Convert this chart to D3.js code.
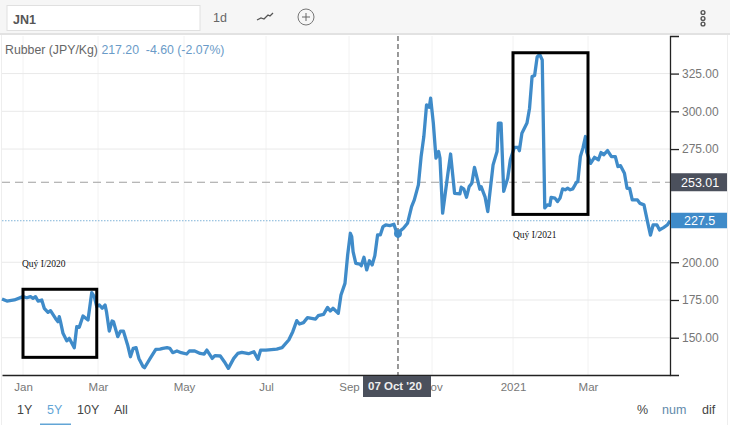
<!DOCTYPE html>
<html><head><meta charset="utf-8">
<script src="https://cdnjs.cloudflare.com/ajax/libs/d3/7.8.5/d3.min.js"></script>
<style>
html,body{margin:0;padding:0;background:#fff}
svg{display:block;font-family:"Liberation Sans",Arial,sans-serif}
</style></head><body><svg id="c" width="730" height="448"></svg>
<script>
const dates=["2019-12-15","2019-12-19","2019-12-25","2020-01-01","2020-01-04","2020-01-07","2020-01-09","2020-01-11","2020-01-13","2020-01-16","2020-01-18","2020-01-21","2020-01-23","2020-01-27","2020-01-29","2020-01-30","2020-01-31","2020-02-02","2020-02-05","2020-02-07","2020-02-11","2020-02-13","2020-02-15","2020-02-18","2020-02-22","2020-02-25","2020-02-27","2020-02-29","2020-03-02","2020-03-04","2020-03-06","2020-03-07","2020-03-09","2020-03-11","2020-03-12","2020-03-15","2020-03-17","2020-03-19","2020-03-22","2020-03-24","2020-03-26","2020-03-28","2020-03-30","2020-04-02","2020-04-03","2020-04-07","2020-04-11","2020-04-14","2020-04-16","2020-04-19","2020-04-21","2020-04-23","2020-04-26","2020-04-29","2020-05-03","2020-05-05","2020-05-09","2020-05-13","2020-05-16","2020-05-18","2020-05-22","2020-05-24","2020-05-28","2020-05-31","2020-06-03","2020-06-07","2020-06-10","2020-06-13","2020-06-18","2020-06-22","2020-06-25","2020-06-27","2020-07-01","2020-07-09","2020-07-13","2020-07-18","2020-07-21","2020-07-24","2020-07-26","2020-07-29","2020-08-01","2020-08-07","2020-08-09","2020-08-13","2020-08-16","2020-08-18","2020-08-20","2020-08-24","2020-08-26","2020-08-29","2020-08-31","2020-09-02","2020-09-03","2020-09-04","2020-09-06","2020-09-09","2020-09-10","2020-09-12","2020-09-14","2020-09-16","2020-09-18","2020-09-20","2020-09-22","2020-09-24","2020-09-26","2020-09-28","2020-10-01","2020-10-04","2020-10-07","2020-10-08","2020-10-11","2020-10-14","2020-10-17","2020-10-19","2020-10-22","2020-10-24","2020-10-26","2020-10-28","2020-10-30","2020-10-31","2020-11-02","2020-11-04","2020-11-06","2020-11-07","2020-11-09","2020-11-13","2020-11-15","2020-11-18","2020-11-22","2020-11-23","2020-11-25","2020-11-27","2020-11-29","2020-12-01","2020-12-03","2020-12-07","2020-12-08","2020-12-11","2020-12-13","2020-12-17","2020-12-20","2020-12-21","2020-12-23","2020-12-25","2020-12-28","2020-12-30","2021-01-02","2021-01-05","2021-01-06","2021-01-08","2021-01-12","2021-01-14","2021-01-16","2021-01-18","2021-01-20","2021-01-22","2021-01-24","2021-01-26","2021-01-28","2021-01-30","2021-01-31","2021-02-03","2021-02-05","2021-02-07","2021-02-09","2021-02-11","2021-02-13","2021-02-15","2021-02-17","2021-02-20","2021-02-21","2021-02-23","2021-02-25","2021-02-27","2021-02-28","2021-03-03","2021-03-06","2021-03-09","2021-03-11","2021-03-13","2021-03-16","2021-03-19","2021-03-22","2021-03-24","2021-03-26","2021-03-29","2021-03-31","2021-04-02","2021-04-04","2021-04-08","2021-04-10","2021-04-13","2021-04-16","2021-04-18","2021-04-20","2021-04-23","2021-04-25","2021-04-28","2021-05-01","2021-05-03"];
const prices=[175.7,174.3,175,177.2,176.5,177.2,176.1,177.2,174.3,175,169.5,166.8,167.9,162.8,160.6,164,160.6,152.9,148,149.6,143.4,157.3,156.9,164.4,161.7,179.9,177.2,170.6,171.7,169.5,171.7,167.3,154.4,161.1,160.6,150.7,154.4,154.4,145.2,137.4,143,143.4,136.3,130.8,130.1,136.3,142.3,142.5,143,143.4,143,140.1,141.2,140.1,139.2,141.2,141.2,139.6,139.2,141.8,136.3,138.1,137.9,134.1,129.7,136.3,139.6,140.3,139.4,140.7,135.7,141.8,141.8,142.5,143.4,148.5,154,161.3,159.1,160,163.3,162.4,164.6,165.5,170.1,167.7,169.5,166.2,178.3,186,204.8,219.2,217,207,199.3,198.7,197.7,203.3,194.9,201,198.2,204.4,218.1,218.1,223.6,224.7,224.3,225.2,217,220.3,222.5,225.8,236.9,241.3,251.3,270,283.3,304.3,302.7,308.7,292.2,269,273.4,269,232.5,259,271.7,245.7,245.3,249.7,248.4,243.1,250.1,252.3,262.9,248.4,250.1,243.1,233.6,264.5,273.4,292.2,292.2,247,255.7,267.9,276.1,276.1,273.9,285.4,292.2,301.9,323,323.7,336,337.7,334,236,238,237.7,243,242.5,240.2,242.5,248.6,248,249,248,248.6,253,253.4,270,275.6,283.3,273,265.5,269.5,267.9,272.7,271.2,274,270,270,263.4,264,259,249,249,241.3,241.3,239,238,225.8,218,224.7,224.7,221.4,223,224.7,227.5];
const monthTicks=["2020-01-01","2020-03-01","2020-05-01","2020-07-01","2020-09-01","2020-11-01","2021-01-01","2021-03-01"];
const monthLabels=["Jan","Mar","May","Jul","Sep","Nov","2021","Mar"];
const priceTicks=[150,175,200,275,300,325];
const quarterBoxes=[["2020-01-01","2020-02-29",182.1,137,"Quý I/2020"],["2021-01-01","2021-03-01",338.8,231.7,"Quý I/2021"]];
const crosshairDate="2020-10-07", crosshairPrice=219, crosshairLabel="07 Oct '20";
const hoverPrice=253.01, lastPrice=227.5;
const rangeButtons=["1Y","5Y","10Y","All"], modeButtons=["%","num","dif"];

const P=d3.timeParse("%Y-%m-%d");
const svg=d3.select("#c");
const x=d3.scaleTime()
  .domain(["2019-12-15",...monthTicks,"2021-05-03"].map(P))
  .range([2,23,98,184,266,349,432,513,588,670]);
const y=d3.scaleLinear().domain([125.3,349.9]).range([375,36]);

// toolbar
svg.append("rect").attr("width",730).attr("height",33).attr("fill","#f6f6f6");
svg.append("rect").attr("y",33).attr("width",730).attr("height",2).attr("fill","#e2e2e2");
svg.append("rect").attr("x",7).attr("y",5.5).attr("width",193).attr("height",25).attr("fill","#fff").attr("stroke","#e0e0e0");
svg.append("text").attr("x",13).attr("y",24).attr("font-size",12.5).attr("font-weight","bold").attr("fill","#555").text("JN1");
svg.append("text").attr("x",213).attr("y",22).attr("font-size",12.5).attr("fill","#666").text("1d");
svg.append("path").attr("d","M257 20l4-2 3 1 4-4 2 1 3-3").attr("fill","none").attr("stroke","#555").attr("stroke-width",1.3);
svg.append("circle").attr("cx",306).attr("cy",17).attr("r",8).attr("fill","none").attr("stroke","#777");
svg.append("path").attr("d","M302 17h8M306 13v8").attr("stroke","#666");
[12.5,18.5,24].forEach(c=>svg.append("circle").attr("cx",703).attr("cy",c).attr("r",1.9).attr("fill","none").attr("stroke","#555").attr("stroke-width",1.4));

// frame
svg.append("path").attr("d","M1.5 35V425M727.5 35V425").attr("stroke","#eeeeee");

// grid
const g=svg.append("g");
g.selectAll(".gx").data(monthTicks).join("line").attr("x1",d=>x(P(d))).attr("x2",d=>x(P(d))).attr("y1",36).attr("y2",375).attr("stroke","#f2f2f2");
g.selectAll(".gy").data(priceTicks).join("line").attr("x1",2).attr("x2",670).attr("y1",d=>y(d)).attr("y2",d=>y(d)).attr("stroke","#e9e9e9");

// reference lines
svg.append("line").attr("x1",2).attr("x2",670).attr("y1",y(lastPrice)).attr("y2",y(lastPrice)).attr("stroke","#7fb4d8").attr("stroke-dasharray","1.5 1.5");
svg.append("line").attr("x1",2).attr("x2",670).attr("y1",y(hoverPrice)).attr("y2",y(hoverPrice)).attr("stroke","#a0a0a0").attr("stroke-width",1.2).attr("stroke-dasharray","8 5");
svg.append("line").attr("x1",x(P(crosshairDate))).attr("x2",x(P(crosshairDate))).attr("y1",36).attr("y2",375).attr("stroke","#777").attr("stroke-width",1.5).attr("stroke-dasharray","5 3");

// price line
const series=dates.map((d,i)=>({d:P(d),v:prices[i]}));
svg.append("path").datum(series).attr("fill","none").attr("stroke","#3f8bc9").attr("stroke-width",3.3).attr("stroke-linejoin","round")
  .attr("d",d3.line().x(d=>x(d.d)).y(d=>y(d.v)));
svg.append("circle").attr("cx",x(P(crosshairDate))).attr("cy",y(crosshairPrice)).attr("r",4).attr("fill","#3f8bc9");

// axes
const ax=svg.append("g").attr("transform","translate(670,0)").call(
  d3.axisRight(y).tickValues(priceTicks).tickSize(9).tickSizeOuter(9).tickPadding(3).tickFormat(d3.format(".2f")));
ax.selectAll("text").attr("font-size",12).attr("fill","#777").attr("font-family","Liberation Sans");
ax.selectAll("path,line").attr("stroke","#222").attr("stroke-width",1.3);
const bx=svg.append("g").attr("transform","translate(0,375)").call(
  d3.axisBottom(x).tickValues(monthTicks.map(P)).tickSize(0).tickSizeOuter(0).tickPadding(8).tickFormat((d,i)=>monthLabels[i]));
bx.selectAll("text").attr("font-size",11.5).attr("fill","#777").attr("font-family","Liberation Sans");
bx.select("path").attr("stroke","#222").attr("stroke-width",1.5);

// quarter boxes
quarterBoxes.forEach(b=>{
  const x0=x(P(b[0])),x1=x(P(b[1])),y0=y(b[2]),y1=y(b[3]);
  svg.append("rect").attr("x",x0).attr("y",y0).attr("width",x1-x0).attr("height",y1-y0).attr("fill","none").attr("stroke","#000").attr("stroke-width",3);
});
svg.append("text").attr("x",22).attr("y",267).attr("font-family","Liberation Serif").attr("font-size",9.5).attr("fill","#111").text(quarterBoxes[0][4]);
svg.append("text").attr("x",513).attr("y",238).attr("font-family","Liberation Serif").attr("font-size",9.5).attr("fill","#111").text(quarterBoxes[1][4]);

// price tags
svg.append("rect").attr("x",671).attr("y",y(hoverPrice)-9).attr("width",56).attr("height",18).attr("fill","#4b505c");
svg.append("text").attr("x",681).attr("y",y(hoverPrice)+4.5).attr("font-size",12.5).attr("fill","#fff").text(d3.format(".2f")(hoverPrice));
svg.append("rect").attr("x",671).attr("y",y(lastPrice)-8).attr("width",56).attr("height",15.5).attr("fill","#3f8bc9");
svg.append("text").attr("x",684).attr("y",y(lastPrice)+4).attr("font-size",12.5).attr("fill","#fff").text(lastPrice);

// crosshair date tag
svg.append("rect").attr("x",363).attr("y",376).attr("width",68).attr("height",21).attr("fill","#4b505c");
svg.append("text").attr("x",368).attr("y",390).attr("font-size",11.5).attr("font-weight","bold").attr("fill","#eee").text(crosshairLabel);

// legend
const leg=svg.append("text").attr("x",5).attr("y",54).attr("font-size",12.3).attr("xml:space","preserve").style("white-space","pre");
leg.append("tspan").attr("fill","#666").text("Rubber (JPY/Kg) ");
leg.append("tspan").attr("fill","#6a9bc8").text("217.20  -4.60 (-2.07%)");

// bottom buttons
[17,47,77,114].forEach((px,i)=>svg.append("text").attr("x",px).attr("y",414).attr("font-size",12.5).attr("fill",i===1?"#62a5d6":"#444").text(rangeButtons[i]));
svg.append("rect").attr("x",40).attr("y",423.5).attr("width",31).attr("height",1.5).attr("fill","#62a5d6");
[[637,"#444"],[662,"#5f8aab"],[702,"#444"]].forEach((c,i)=>svg.append("text").attr("x",c[0]).attr("y",414).attr("font-size",12.5).attr("fill",c[1]).text(modeButtons[i]));
</script></body></html>
